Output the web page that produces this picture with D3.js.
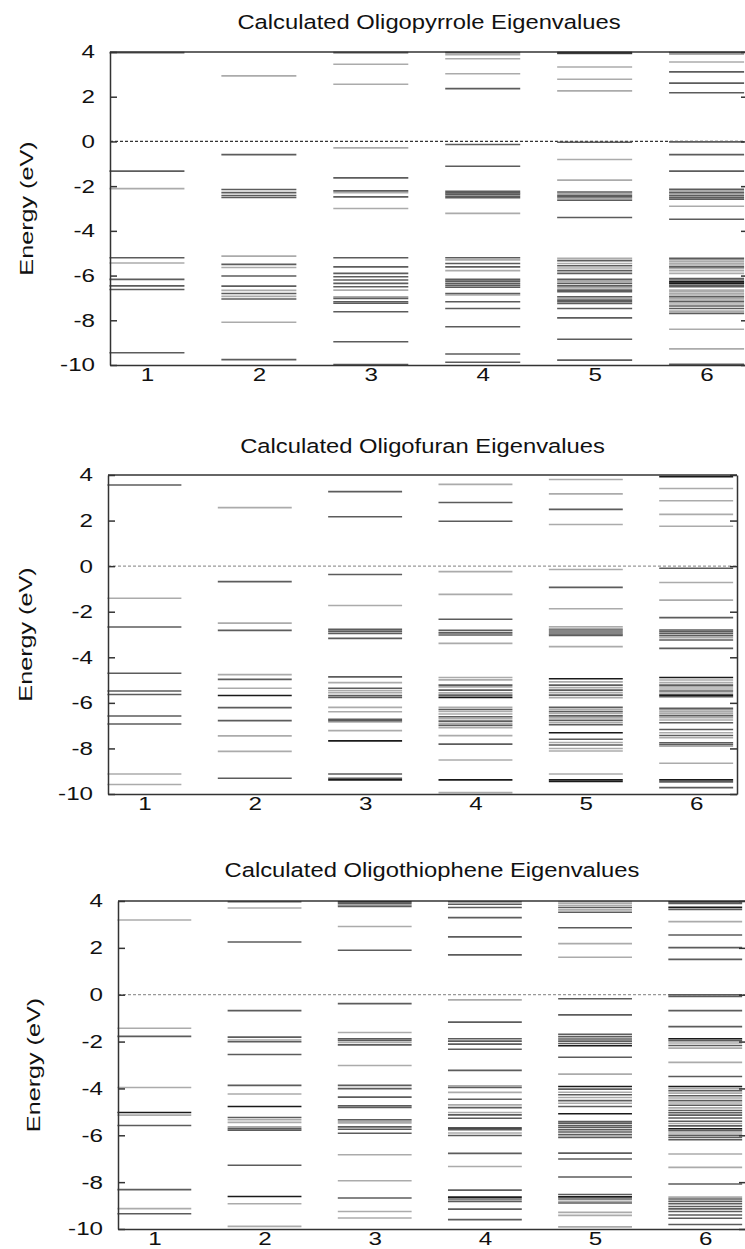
<html lang="en">
  <head>
    <meta charset="utf-8">
    <title>Calculated Oligomer Eigenvalues</title>
    <script src="https://d3js.org/d3.v7.min.js"></script>
    <style>
      body { margin: 0; background: white; }
      text { font-family: "Liberation Sans", Arial, sans-serif; fill: #111; }
    </style>
  </head>
  <body>
  <script>

  var w = 745;
  var h = 1249;

  var oligomers = [1, 2, 3, 4, 5, 6];
  var energyTicks = [4, 2, 0, -2, -4, -6, -8, -10];
  var titles = ["Calculated Oligopyrrole Eigenvalues",
                "Calculated Oligofuran Eigenvalues",
                "Calculated Oligothiophene Eigenvalues"];

  // levels per oligomer length: [energy (eV), degeneracy]
  var pyrrole = [
    [[3.97,2],[-1.33,2],[-2.11,1],[-5.20,2],[-5.44,1],[-6.17,2],[-6.46,2],[-6.62,2],[-9.45,2]],
    [[2.93,1],[-0.59,2],[-2.15,2],[-2.29,2],[-2.42,2],[-2.51,2],[-5.13,1],[-5.50,2],[-5.64,1],[-6.02,2],[-6.47,2],[-6.66,1],[-6.80,2],[-6.93,1],[-7.05,2],[-8.09,1],[-9.76,2]],
    [[3.97,2],[3.45,1],[2.56,1],[-0.29,1],[-1.63,2],[-2.21,2],[-2.29,1],[-2.48,2],[-3.00,1],[-5.20,2],[-5.61,2],[-5.90,2],[-6.05,2],[-6.20,2],[-6.35,2],[-6.50,2],[-6.65,1],[-6.95,1],[-7.02,2],[-7.17,2],[-7.24,2],[-7.62,2],[-8.96,2],[-9.98,2]],
    [[3.97,2],[3.88,1],[3.70,1],[3.03,1],[2.36,2],[-0.14,2],[-1.11,2],[-2.23,2],[-2.30,2],[-2.37,2],[-2.45,2],[-2.52,2],[-3.22,1],[-5.20,2],[-5.30,1],[-5.46,2],[-5.61,2],[-5.78,1],[-6.17,2],[-6.25,2],[-6.35,2],[-6.44,2],[-6.52,2],[-6.80,2],[-6.87,1],[-7.17,2],[-7.47,2],[-8.29,2],[-9.51,2],[-9.88,2]],
    [[3.97,3],[3.93,2],[3.33,1],[2.78,1],[2.26,1],[-0.04,2],[-0.81,1],[-1.73,1],[-2.26,2],[-2.33,1],[-2.41,2],[-2.48,2],[-2.56,1],[-2.63,2],[-3.40,2],[-5.23,1],[-5.33,2],[-5.46,1],[-5.56,2],[-5.66,1],[-5.78,2],[-5.90,2],[-6.17,2],[-6.25,1],[-6.35,2],[-6.46,2],[-6.55,1],[-6.65,2],[-6.72,2],[-6.95,2],[-7.02,1],[-7.10,2],[-7.17,2],[-7.25,2],[-7.47,2],[-7.89,2],[-8.85,2],[-9.78,2]],
    [[3.97,2],[3.90,1],[3.55,1],[3.11,2],[2.61,2],[2.18,2],[-0.02,2],[-0.59,2],[-1.33,2],[-2.14,2],[-2.21,1],[-2.29,2],[-2.36,1],[-2.43,2],[-2.51,2],[-2.58,2],[-2.90,1],[-3.48,2],[-5.23,2],[-5.30,1],[-5.38,1],[-5.46,1],[-5.53,1],[-5.61,2],[-5.68,1],[-5.78,1],[-5.90,1],[-6.13,2],[-6.20,2],[-6.28,3],[-6.35,3],[-6.43,2],[-6.50,2],[-6.65,1],[-6.72,1],[-6.80,1],[-6.87,1],[-6.95,2],[-7.02,1],[-7.10,1],[-7.17,2],[-7.27,1],[-7.36,2],[-7.47,2],[-7.59,1],[-7.69,2],[-8.40,1],[-9.28,1],[-9.97,2]]
  ];

  var furan = [
    [[3.56,2],[-1.41,1],[-2.67,2],[-4.70,2],[-5.48,2],[-5.63,2],[-6.58,2],[-6.93,2],[-9.12,1],[-9.58,1]],
    [[2.57,1],[-0.68,2],[-2.50,1],[-2.82,2],[-4.76,1],[-4.97,2],[-5.36,1],[-5.68,3],[-6.21,2],[-6.78,2],[-7.45,1],[-8.13,1],[-9.31,2]],
    [[3.27,2],[2.17,2],[-0.37,2],[-1.73,1],[-2.77,2],[-2.85,2],[-2.95,2],[-3.17,2],[-4.86,2],[-5.11,1],[-5.36,2],[-5.46,1],[-5.55,1],[-5.68,2],[-5.76,2],[-6.20,1],[-6.39,1],[-6.72,2],[-6.78,2],[-6.84,1],[-7.22,1],[-7.67,3],[-9.12,2],[-9.31,2],[-9.38,3]],
    [[3.59,1],[2.79,2],[1.97,2],[-0.24,1],[-1.24,1],[-2.33,2],[-2.82,2],[-2.93,2],[-3.02,2],[-3.39,1],[-4.89,1],[-4.99,1],[-5.22,2],[-5.30,1],[-5.44,2],[-5.56,1],[-5.66,2],[-5.76,3],[-6.20,1],[-6.29,2],[-6.38,1],[-6.49,1],[-6.61,2],[-6.69,1],[-6.80,2],[-6.90,1],[-6.99,2],[-7.09,1],[-7.44,1],[-7.81,2],[-8.51,1],[-9.38,3],[-9.94,1]],
    [[3.80,1],[3.17,1],[2.49,2],[1.83,1],[-0.15,1],[-0.93,2],[-1.87,1],[-2.66,1],[-2.74,1],[-2.80,2],[-2.89,2],[-2.98,2],[-3.04,2],[-3.53,1],[-4.94,3],[-5.08,1],[-5.22,2],[-5.33,1],[-5.44,2],[-5.55,1],[-5.66,2],[-5.77,1],[-6.20,2],[-6.29,1],[-6.38,2],[-6.46,1],[-6.57,2],[-6.66,1],[-6.77,2],[-6.87,1],[-6.96,2],[-7.31,3],[-7.60,2],[-7.74,1],[-7.85,2],[-8.00,1],[-8.11,1],[-9.12,1],[-9.38,3],[-9.45,3]],
    [[3.93,3],[3.41,1],[2.87,1],[2.27,1],[1.75,1],[-0.09,2],[-0.72,1],[-1.49,1],[-2.26,2],[-2.80,2],[-2.87,2],[-2.95,2],[-3.05,2],[-3.14,1],[-3.24,2],[-3.61,2],[-4.89,3],[-5.00,1],[-5.11,1],[-5.22,2],[-5.30,1],[-5.39,1],[-5.48,2],[-5.57,1],[-5.66,3],[-5.73,2],[-6.24,2],[-6.31,1],[-6.39,1],[-6.46,1],[-6.56,2],[-6.65,1],[-6.75,1],[-6.87,2],[-7.17,2],[-7.31,1],[-7.43,2],[-7.53,1],[-7.75,2],[-7.83,2],[-7.90,1],[-8.65,1],[-9.38,3],[-9.47,2],[-9.72,2]]
  ];

  var thiophene = [
    [[3.19,1],[-1.43,1],[-1.78,2],[-3.96,1],[-5.03,3],[-5.14,1],[-5.58,2],[-8.32,2],[-9.13,1],[-9.35,2]],
    [[3.97,2],[3.70,1],[2.25,2],[-0.68,2],[-1.81,2],[-1.93,1],[-2.01,2],[-2.55,2],[-3.87,2],[-4.24,1],[-4.77,3],[-5.24,2],[-5.34,1],[-5.45,1],[-5.64,1],[-5.71,2],[-5.78,2],[-7.28,2],[-8.61,3],[-8.92,1],[-9.89,1]],
    [[3.97,3],[3.90,2],[3.83,1],[3.77,2],[2.91,1],[1.90,2],[-0.38,2],[-1.61,1],[-1.88,2],[-1.95,2],[-2.04,1],[-2.14,2],[-3.02,1],[-3.87,2],[-4.01,2],[-4.37,2],[-4.74,2],[-4.81,2],[-5.34,2],[-5.40,1],[-5.47,1],[-5.64,2],[-5.74,2],[-5.91,2],[-6.83,1],[-7.94,1],[-8.68,2],[-9.25,1],[-9.53,1]],
    [[3.97,2],[3.86,2],[3.72,2],[3.29,2],[2.47,2],[1.70,2],[-0.22,1],[-1.17,2],[-1.88,2],[-1.98,2],[-2.11,2],[-2.33,2],[-3.23,2],[-3.89,1],[-3.96,2],[-4.17,1],[-4.46,2],[-4.70,1],[-4.82,2],[-5.03,1],[-5.13,2],[-5.27,2],[-5.69,3],[-5.76,2],[-5.90,1],[-6.01,2],[-6.77,2],[-7.33,1],[-8.34,2],[-8.64,3],[-8.72,2],[-8.82,2],[-9.15,2],[-9.60,2]],
    [[3.97,1],[3.90,1],[3.81,1],[3.72,2],[3.62,1],[3.52,2],[2.86,2],[2.18,1],[1.60,1],[-0.17,2],[-0.86,2],[-1.69,2],[-1.79,2],[-1.89,2],[-1.98,2],[-2.08,2],[-2.18,3],[-2.67,2],[-3.39,1],[-3.92,3],[-4.03,2],[-4.16,1],[-4.27,2],[-4.39,1],[-4.52,2],[-4.63,1],[-4.77,2],[-5.08,3],[-5.41,2],[-5.48,2],[-5.58,2],[-5.66,2],[-5.76,2],[-5.86,2],[-5.97,2],[-6.09,2],[-6.76,2],[-7.01,2],[-7.78,2],[-8.53,2],[-8.63,3],[-8.72,2],[-8.82,1],[-8.89,2],[-9.29,1],[-9.42,1],[-9.91,1]],
    [[3.97,3],[3.90,2],[3.73,3],[3.64,2],[3.12,1],[2.55,2],[2.01,2],[1.51,2],[0.00,2],[-0.07,2],[-0.68,2],[-1.36,2],[-1.88,3],[-1.96,2],[-2.06,1],[-2.17,2],[-2.28,1],[-2.89,1],[-3.49,2],[-3.92,3],[-4.01,1],[-4.10,2],[-4.20,1],[-4.31,2],[-4.41,1],[-4.52,2],[-4.62,1],[-4.72,2],[-4.83,1],[-4.94,2],[-5.04,2],[-5.14,2],[-5.26,2],[-5.40,2],[-5.50,1],[-5.60,2],[-5.72,3],[-5.80,2],[-5.90,1],[-6.00,2],[-6.09,2],[-6.19,2],[-6.80,1],[-7.37,1],[-8.08,2],[-8.64,1],[-8.72,2],[-8.82,2],[-8.92,2],[-9.04,2],[-9.14,2],[-9.25,2],[-9.40,2],[-9.54,2],[-9.81,2]]
  ];

  // panel layout
  var panels = [
    {title: titles[0], levels: pyrrole,   left: 110, right: 748, top: 52,  bottom: 365,  titleY: 29,  labelX: 27, zero: "#333"},
    {title: titles[1], levels: furan,     left: 108, right: 737, top: 475, bottom: 794,  titleY: 453, labelX: 26, zero: "#999"},
    {title: titles[2], levels: thiophene, left: 118, right: 746, top: 901, bottom: 1229, titleY: 877, labelX: 34, zero: "#999"}
  ];

  var shade = d3.scaleOrdinal().domain([1, 2, 3]).range(["#ababab", "#5c5c5c", "#1a1a1a"]);
  var wide = 1.3;   // the lettering in the picture is wide

  var svg = d3.select("body")
    .append("svg")
      .attr("width", w)
      .attr("height", h);

  svg.append("rect")
    .attr("width", w)
    .attr("height", h)
    .attr("fill", "white");

  panels.forEach(function(p) {
    var xScale = d3.scaleLinear().domain([0.67, 6.37]).range([p.left, p.right]);
    var yScale = d3.scaleLinear().domain([-10, 4]).range([p.bottom, p.top]);

    var g = svg.append("g");

    var rows = [];
    p.levels.forEach(function(lv, i) {
      lv.forEach(function(d) { rows.push({n: oligomers[i], e: d[0], deg: d[1]}); });
    });
    rows.sort(function(a, b) { return a.deg - b.deg; });

    // zero reference
    g.append("line")
      .attr("x1", p.left).attr("x2", p.right)
      .attr("y1", yScale(0)).attr("y2", yScale(0))
      .attr("stroke", p.zero)
      .attr("stroke-width", 1.2)
      .attr("stroke-dasharray", "3,2");

    // eigenvalue levels
    g.append("g").selectAll("line")
      .data(rows)
      .enter().append("line")
        .attr("x1", d => xScale(d.n - 0.335))
        .attr("x2", d => Math.min(xScale(d.n + 0.335), p.right))
        .attr("y1", d => yScale(d.e))
        .attr("y2", d => yScale(d.e))
        .attr("stroke", d => shade(d.deg))
        .attr("stroke-width", 1.6);

    // axes
    var yAxis = d3.axisLeft(yScale).tickValues(energyTicks).tickSize(-7).tickSizeOuter(0)
      .tickPadding(11.5).tickFormat(d => String(d));
    var yAxisR = d3.axisRight(yScale).tickValues(energyTicks).tickSize(-7).tickSizeOuter(0).tickFormat("");
    var xAxis = d3.axisBottom(xScale).tickValues(oligomers).tickSize(0).tickSizeOuter(0)
      .tickPadding(3).tickFormat(d => String(d));

    var ya = g.append("g")
      .attr("transform", `translate(${p.left},0)`)
      .call(yAxis);
    g.append("g")
      .attr("transform", `translate(${p.right},0)`)
      .call(yAxisR);
    var xa = g.append("g")
      .attr("transform", `translate(0,${p.bottom})`)
      .call(xAxis);
    g.append("line")
      .attr("x1", p.left).attr("x2", p.right)
      .attr("y1", p.top).attr("y2", p.top)
      .attr("stroke", "#333").attr("stroke-width", 1.5);

    g.selectAll(".domain, .tick line").attr("stroke", "#333").attr("stroke-width", 1.5);
    g.selectAll(".tick text")
      .attr("font-family", "Liberation Sans, Arial, sans-serif")
      .attr("font-size", 18.6)
      .attr("fill", "#111");
    ya.selectAll(".tick text").attr("transform", `scale(${wide},1)`);
    // keep x labels centred on their tick while widening them
    xa.selectAll(".tick text").attr("transform", `scale(${wide},1)`).attr("x", 0);

    // title
    svg.append("text")
      .attr("transform", `translate(${(p.left + p.right) / 2},${p.titleY}) scale(1.16,1)`)
      .attr("text-anchor", "middle")
      .attr("font-size", 20.5)
      .text(p.title);

    // y label
    svg.append("text")
      .attr("transform", `translate(${p.labelX},${(p.top + p.bottom) / 2}) rotate(-90) scale(1.4,1)`)
      .attr("text-anchor", "middle")
      .attr("dy", "0.35em")
      .attr("font-size", 18)
      .text("Energy (eV)");
  });

  </script>
  </body>
</html>
